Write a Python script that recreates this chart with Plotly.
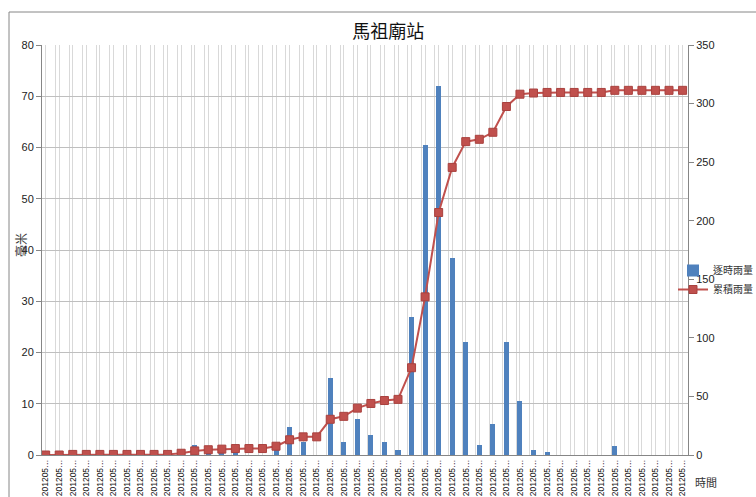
import plotly.graph_objects as go

# ---- data ----
tick_labels = ["201205…"] * 48
hourly_rain = [0, 0, 0.5, 0, 0, 0, 0, 0, 0, 0,
               1, 2, 1, 0.5, 0.5, 0, 0, 2, 5.5, 2.5,
               0, 15, 2.5, 7, 4, 2.5, 1, 27, 60.5, 72,
               38.5, 22, 2, 6, 22, 10.5, 1, 0.5, 0, 0,
               0, 0, 1.8, 0, 0, 0, 0, 0]
cumulative_rain = [0, 0, 0.5, 0.5, 0.5, 0.5, 0.5, 0.5, 0.5, 0.5,
                   1.5, 3.5, 4.5, 5, 5.5, 5.5, 5.5, 7.5, 13, 15.5,
                   15.5, 30.5, 33, 40, 44, 46.5, 47.5, 74.5, 135, 207,
                   245.5, 267.5, 269.5, 275.5, 297.5, 308, 309, 309.5, 309.5, 309.5,
                   309.5, 309.5, 311.3, 311.3, 311.3, 311.3, 311.3, 311.3]

title_text = "馬祖廟站"
series_names = ["逐時雨量", "累積雨量"]
y_title = "毫米"
x_title = "時間"

x = list(range(len(tick_labels)))

FONT = "Liberation Sans, Noto Sans CJK TC, sans-serif"
CJK = "Noto Sans CJK TC, sans-serif"

fig = go.Figure()
fig.add_trace(go.Bar(
    x=x, y=hourly_rain, name=series_names[0],
    marker=dict(color="#4F81BD", line=dict(width=0)),
    width=0.37, yaxis="y",
))
fig.add_trace(go.Scatter(
    x=x, y=cumulative_rain, name=series_names[1], mode="lines+markers",
    line=dict(color="#C0504D", width=2),
    marker=dict(symbol="square", size=8, color="#C0504D",
                line=dict(color="#A9413E", width=1)),
    yaxis="y2",
))

fig.update_layout(
    width=756, height=497,
    margin=dict(l=42, r=68, t=45, b=42, autoexpand=False),
    paper_bgcolor="white", plot_bgcolor="white",
    font=dict(family=FONT, size=11, color="#222222"),
    bargap=0,
    title=dict(text=title_text, x=0.536, xref="paper", xanchor="center",
               y=1 - 32 / 497, yref="container", yanchor="middle",
               font=dict(family=CJK, size=18, color="#111111"), automargin=False),
    xaxis=dict(
        range=[-0.27, 47.4], automargin=False,
        tickmode="array", tickvals=x, ticktext=tick_labels,
        tickangle=-90, tickfont=dict(size=8.5, family=FONT, color="#111111"),
        showgrid=True, gridcolor="#D9D9D9", gridwidth=1,
        minor=dict(tickmode="array",
                   tickvals=[k - 0.27 for k in range(1, 48)],
                   showgrid=True, gridcolor="#D9D9D9", gridwidth=1),
        showline=True, linecolor="#868686", linewidth=1,
        zeroline=False, ticks="",
    ),
    yaxis=dict(
        range=[0, 80], dtick=10, tick0=0, automargin=False,
        showgrid=True, gridcolor="#BFBFBF", gridwidth=1,
        showline=True, linecolor="#868686", linewidth=1,
        ticks="outside", ticklen=5, tickcolor="#868686",
        zeroline=False, tickfont=dict(size=11),
    ),
    yaxis2=dict(
        range=[0, 350], dtick=50, tick0=0, overlaying="y", side="right",
        automargin=False,
        showgrid=False, showline=True, linecolor="#868686", linewidth=1,
        ticks="outside", ticklen=5, tickcolor="#868686",
        zeroline=False, tickfont=dict(size=11),
    ),
    legend=dict(x=(673 - 42) / 646, xanchor="left", y=(455 - 256) / 410, yanchor="top",
                bgcolor="rgba(0,0,0,0)", font=dict(family=CJK, size=10, color="#333333"),
                tracegroupgap=0, itemwidth=30),
    showlegend=True,
)

fig.add_annotation(text=y_title, xref="paper", yref="paper",
                   x=(20 - 42) / 646, y=(455 - 245) / 410, showarrow=False,
                   xanchor="center", yanchor="middle",
                   textangle=-90, font=dict(family=CJK, size=12, color="#333333"))
fig.add_annotation(text=x_title, xref="paper", yref="paper",
                   x=(706 - 42) / 646, y=(455 - 482) / 410, showarrow=False,
                   xanchor="center", yanchor="middle",
                   font=dict(family=CJK, size=11, color="#333333"))

fig.add_shape(type="rect", xref="paper", yref="paper",
              x0=(9 - 42) / 646, x1=1.2, y0=-0.2, y1=(455 - 12) / 410,
              line=dict(color="#868686", width=1), fillcolor="rgba(0,0,0,0)", layer="below")

fig.write_html("out.html", config={"displayModeBar": False},
               post_script="document.body.style.margin='0';document.body.style.overflow='hidden';")
